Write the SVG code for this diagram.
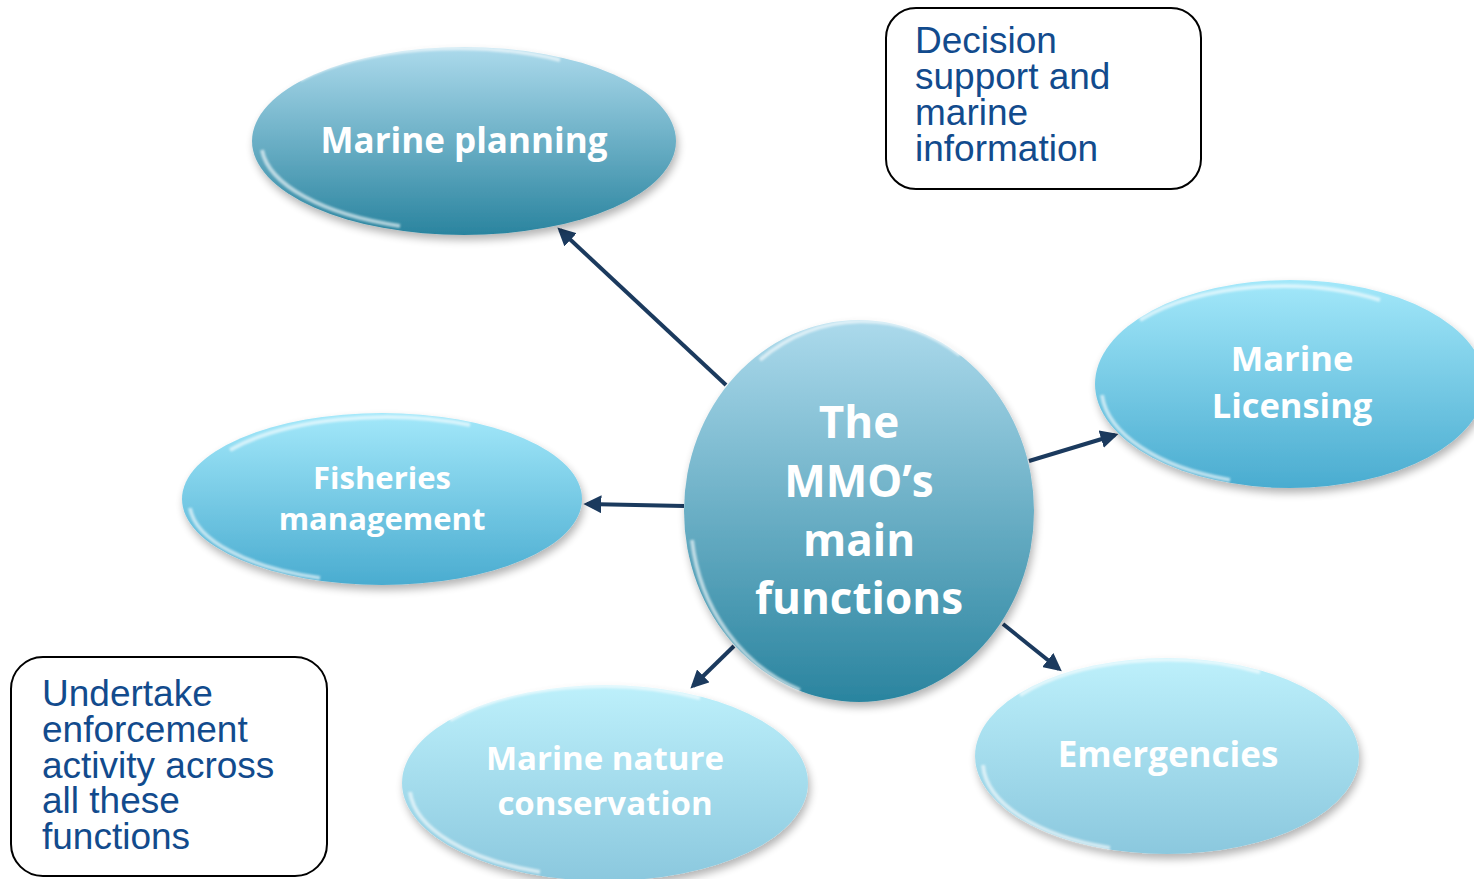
<svg xmlns="http://www.w3.org/2000/svg" width="1474" height="879" viewBox="0 0 1474 879">
<defs>
<style>
.lbl{font-family:"Open Sans","Liberation Sans",sans-serif;font-weight:bold;fill:#ffffff;text-anchor:middle}
.box{fill:#ffffff;stroke:#000000;stroke-width:2}
.btxt{font-family:"Liberation Sans",Arial,sans-serif;font-size:37px;fill:#124b8d}
.conn{stroke:#1b3a5e;stroke-width:4;fill:none;marker-end:url(#ah)}
.rim{fill:none;stroke:#ffffff;stroke-width:4;stroke-opacity:0.6;filter:url(#soft)}
</style>
<marker id="ah" viewBox="0 0 10 10" refX="8" refY="5" markerWidth="4.5" markerHeight="4.5" orient="auto" markerUnits="strokeWidth">
<path d="M0,0 L10,5 L0,10 z" fill="#1b3a5e"/>
</marker>
<linearGradient id="gDark" x1="0" y1="0" x2="0" y2="1">
<stop offset="0" stop-color="#acdaec"/>
<stop offset="1" stop-color="#2a849f"/>
</linearGradient>
<linearGradient id="gMid" x1="0" y1="0" x2="0" y2="1">
<stop offset="0" stop-color="#a3e8fa"/>
<stop offset="1" stop-color="#4aacd0"/>
</linearGradient>
<linearGradient id="gLight" x1="0" y1="0" x2="0" y2="1">
<stop offset="0" stop-color="#bdf0fb"/>
<stop offset="1" stop-color="#8bc8de"/>
</linearGradient>
<filter id="sh" x="-10%" y="-10%" width="125%" height="130%">
<feGaussianBlur in="SourceAlpha" stdDeviation="4"/>
<feOffset dx="2" dy="5" result="b"/>
<feComponentTransfer><feFuncA type="linear" slope="0.3"/></feComponentTransfer>
<feMerge><feMergeNode/><feMergeNode in="SourceGraphic"/></feMerge>
</filter>
<filter id="soft" x="-10%" y="-10%" width="120%" height="120%">
<feGaussianBlur stdDeviation="1.2"/>
</filter>
</defs>
<rect width="1474" height="879" fill="#ffffff"/>

<g id="connectors">
<line class="conn" x1="726" y1="385" x2="560" y2="230"/>
<line class="conn" x1="684" y1="506" x2="587" y2="504"/>
<line class="conn" x1="1029" y1="461" x2="1115" y2="435"/>
<line class="conn" x1="734" y1="646" x2="693" y2="686"/>
<line class="conn" x1="1003" y1="624" x2="1059" y2="669"/>
</g>

<g id="marine-planning">
<ellipse cx="464" cy="141" rx="212" ry="94" fill="url(#gDark)" filter="url(#sh)"/>
<path class="rim" d="M262,150 A205,88 0 0 0 400,226"/>
<path class="rim" d="M300,80 A205,88 0 0 1 560,60" stroke-opacity="0.35"/>
<text class="lbl" x="464" y="153" font-size="35">Marine planning</text>
</g>

<g id="center">
<ellipse cx="859" cy="511" rx="175" ry="191" fill="url(#gDark)" filter="url(#sh)"/>
<path class="rim" d="M692,540 A168,184 0 0 0 800,690"/>
<path class="rim" d="M760,360 A168,184 0 0 1 960,355" stroke-opacity="0.35"/>
<text class="lbl" x="859" y="438" font-size="44">The</text>
<text class="lbl" x="859" y="497" font-size="44">MMO’s</text>
<text class="lbl" x="859" y="556" font-size="44">main</text>
<text class="lbl" x="859" y="614" font-size="44">functions</text>
</g>

<g id="marine-licensing">
<ellipse cx="1290" cy="384" rx="195" ry="104" fill="url(#gMid)" filter="url(#sh)"/>
<path class="rim" d="M1102,395 A188,97 0 0 0 1230,480"/>
<path class="rim" d="M1140,320 A188,97 0 0 1 1380,300" stroke-opacity="0.35"/>
<text class="lbl" x="1292" y="371" font-size="34.5">Marine</text>
<text class="lbl" x="1292" y="418" font-size="34.5">Licensing</text>
</g>

<g id="fisheries">
<ellipse cx="382" cy="499" rx="200" ry="86" fill="url(#gMid)" filter="url(#sh)"/>
<path class="rim" d="M190,508 A193,80 0 0 0 320,578"/>
<path class="rim" d="M230,450 A193,80 0 0 1 470,425" stroke-opacity="0.35"/>
<text class="lbl" x="382" y="489" font-size="31">Fisheries</text>
<text class="lbl" x="382" y="530" font-size="31">management</text>
</g>

<g id="marine-nature-conservation">
<ellipse cx="605" cy="783" rx="203" ry="98" fill="url(#gLight)" filter="url(#sh)"/>
<path class="rim" d="M410,792 A196,91 0 0 0 540,872"/>
<path class="rim" d="M450,720 A196,91 0 0 1 700,698" stroke-opacity="0.5"/>
<text class="lbl" x="605" y="770" font-size="33">Marine nature</text>
<text class="lbl" x="605" y="815" font-size="33">conservation</text>
</g>

<g id="emergencies">
<ellipse cx="1167" cy="756" rx="192" ry="98" fill="url(#gLight)" filter="url(#sh)"/>
<path class="rim" d="M983,765 A185,91 0 0 0 1110,848"/>
<path class="rim" d="M1020,695 A185,91 0 0 1 1260,672" stroke-opacity="0.5"/>
<text class="lbl" x="1168" y="767" font-size="35">Emergencies</text>
</g>

<g id="decision-support">
<rect class="box" x="886" y="8" width="315" height="181" rx="30"/>
<text class="btxt" x="915" y="53">Decision</text>
<text class="btxt" x="915" y="89">support and</text>
<text class="btxt" x="915" y="125">marine</text>
<text class="btxt" x="915" y="161">information</text>
</g>

<g id="enforcement">
<rect class="box" x="11" y="657" width="316" height="219" rx="32"/>
<text class="btxt" x="42" y="706">Undertake</text>
<text class="btxt" x="42" y="742">enforcement</text>
<text class="btxt" x="42" y="778">activity across</text>
<text class="btxt" x="42" y="813">all these</text>
<text class="btxt" x="42" y="849">functions</text>
</g>
</svg>
